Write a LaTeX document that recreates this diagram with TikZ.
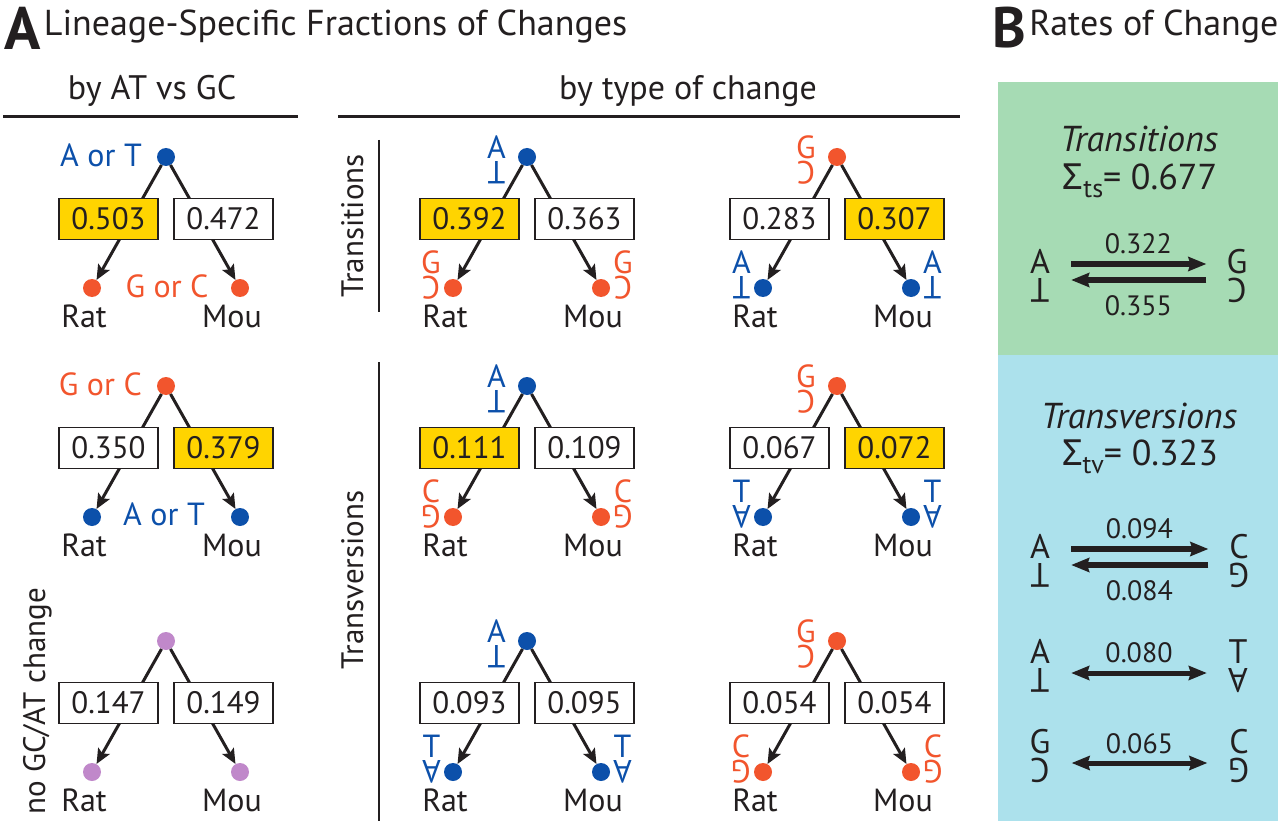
\documentclass[tikz,border=0pt]{standalone}
\usepackage{fontspec}
\setmainfont{PT Sans}
\newfontfamily\greekfont{Noto Sans}
\usepackage{graphicx}
\usetikzlibrary{arrows.meta, positioning}
\definecolor{atblue}{RGB}{12,80,170}
\definecolor{gcred}{RGB}{242,85,45}
\definecolor{nochange}{RGB}{192,136,202}
\definecolor{hiyellow}{RGB}{255,212,0}
\definecolor{tsgreen}{RGB}{166,219,180}
\definecolor{tvblue}{RGB}{172,225,236}
\definecolor{ink}{RGB}{35,31,32}
\newcommand{\bp}[2]{#1\\\rotatebox[origin=c]{180}{#2}}
\newcommand{\fs}[1]{\fontsize{#1}{#1}\selectfont}

\begin{document}
\begin{tikzpicture}[
  x=1pt, y=-1pt,
  every node/.style={text=ink},
  dot/.style={circle, inner sep=0pt, minimum size=18pt},
  rate/.style={rectangle, draw=ink, line width=1.5pt, minimum width=99pt, minimum height=41pt, inner sep=0pt, font=\fs{31}},
  branch/.style={draw=ink, line width=3pt, -{Stealth[length=15pt, width=13pt, inset=3pt]}},
  species/.style={anchor=base, inner sep=0pt, font=\fs{32}},
  basestate/.style={inner sep=0pt, font=\fs{32}},
  pair/.style={inner sep=0pt, align=center, font=\fontsize{32}{26}\selectfont},
  bigpair/.style={inner sep=0pt, align=center, font=\fontsize{34}{29}\selectfont},
  heading/.style={inner sep=0pt, font=\fs{36}},
  subheading/.style={anchor=base, inner sep=0pt, font=\fs{34}},
  sidelabel/.style={rotate=90, anchor=base, inner sep=0pt, font=\fs{31}},
  rule/.style={draw=ink, line width=3pt},
  oneway/.style={draw=ink, line width=5.5pt, -{Stealth[length=18pt, width=14pt, inset=2pt]}},
  twoway/.style={draw=ink, line width=5pt, {Stealth[length=18pt, width=14pt, inset=2pt]}-{Stealth[length=18pt, width=14pt, inset=2pt]}},
  ratelabel/.style={inner sep=0pt, font=\fs{28}}
]
  \fill[white] (0,0) rectangle (1280,821);
  \useasboundingbox (0,0) rectangle (1280,821);

  % panel headings
  \node[inner sep=0pt, anchor=base west, font=\fs{60}\bfseries] (panA) at (4,50) {A};
  \node[heading, anchor=north west] (titleA) at ([xshift=3pt, yshift=-2pt]panA.north east) {Lineage-Specific Fractions of Changes};
  \node[inner sep=0pt, anchor=base west, font=\fs{57}\bfseries] (panB) at (992,48) {B};
  \node[heading, anchor=north west] (titleB) at ([xshift=3pt, yshift=-2pt]panB.north east) {Rates of Change};

  % column headings
  \node[subheading] (byat) at (152,100) {by AT vs GC};
  \node[subheading] (bytype) at (688,100) {by type of change};
  \draw[rule] (3,117) -- (298,117);
  \draw[rule] (338,117) -- (960,117);

  % side labels
  \node[sidelabel] (tslab) at (363,226) {Transitions};
  \node[sidelabel] (tvlab) at (363,580) {Transversions};
  \node[sidelabel, anchor=base west] (nclab) at (45,815) {no GC/AT change};
  \draw[draw=ink, line width=1.6pt] (379,140) -- (379,312);
  \draw[draw=ink, line width=1.6pt] (379,362) -- (379,822);

  % trees: name/root x/root y/root colour/leaf colour/left value/left fill/right value/right fill
  \foreach \t/\x/\y/\cr/\cl/\lv/\lf/\rv/\rf in {
    ag/166/157/atblue/gcred/0.503/hiyellow/0.472/white,
    ga/166/386/gcred/atblue/0.350/white/0.379/hiyellow,
    nc/166/641/nochange/nochange/0.147/white/0.149/white,
    tsa/527/157/atblue/gcred/0.392/hiyellow/0.363/white,
    tsg/837/157/gcred/atblue/0.283/white/0.307/hiyellow,
    tvac/527/386/atblue/gcred/0.111/hiyellow/0.109/white,
    tvgt/837/386/gcred/atblue/0.067/white/0.072/hiyellow,
    tvat/527/641/atblue/atblue/0.093/white/0.095/white,
    tvgc/837/641/gcred/gcred/0.054/white/0.054/white}{
    \node[dot, fill=\cr] (\t-r) at (\x,\y) {};
    \node[dot, fill=\cl] (\t-a) at (\x-74,\y+131) {};
    \node[dot, fill=\cl] (\t-b) at (\x+74,\y+131) {};
    \draw[branch] (\t-r) -- (\t-a);
    \draw[branch] (\t-r) -- (\t-b);
    \node[rate, fill=\lf] (\t-la) at (\x-57.5,\y+62) {\lv};
    \node[rate, fill=\rf] (\t-lb) at (\x+57.5,\y+62) {\rv};
    \node[species] (\t-rat) at (\x-82,\y+170) {Rat};
    \node[species] (\t-mou) at (\x+66,\y+170) {Mou};
  }

  % AT vs GC states
  \node[basestate, text=atblue, anchor=east] (ag-rs) at ([xshift=-24pt, yshift=2pt]ag-r.center) {A or T};
  \node[basestate, text=gcred, anchor=base] (ag-ls) at (167,297) {G or C};
  \node[basestate, text=gcred, anchor=east] (ga-rs) at ([xshift=-24pt, yshift=2pt]ga-r.center) {G or C};
  \node[basestate, text=atblue, anchor=base] (ga-ls) at (164,525) {A or T};

  % base pairs on the type-of-change trees
  \foreach \t/\rt/\rb/\rc/\lt/\lb/\lc in {tsa/A/T/atblue/G/C/gcred, tsg/G/C/gcred/A/T/atblue,
    tvac/A/T/atblue/C/G/gcred, tvgt/G/C/gcred/T/A/atblue,
    tvat/A/T/atblue/T/A/atblue, tvgc/G/C/gcred/C/G/gcred}{
    \node[pair, text=\rc, anchor=east] (\t-rl) at ([xshift=-21pt, yshift=-3pt]\t-r.center) {\bp{\rt}{\rb}};
    \node[pair, text=\lc, anchor=east] (\t-al) at ([xshift=-12pt, yshift=13pt]\t-a.center) {\bp{\lt}{\lb}};
    \node[pair, text=\lc, anchor=west] (\t-bl) at ([xshift=12pt, yshift=13pt]\t-b.center) {\bp{\lt}{\lb}};
  }

  % rates of change
  \fill[tsgreen] (998,82) rectangle (1278,355);
  \fill[tvblue] (998,355) rectangle (1278,822);
  \node[anchor=base, inner sep=0pt, font=\fs{36}\itshape] (tshead) at (1139,152) {Transitions};
  \node[anchor=base, inner sep=0pt, font=\fs{36}] (tssum) at (1140,190) {{\greekfont Σ}\raisebox{-8pt}{\fs{26}ts}= 0.677};
  \node[bigpair] (ts-a) at (1040,276) {\bp{A}{T}};
  \node[bigpair] (ts-g) at (1237,276) {\bp{G}{C}};
  \draw[oneway, shorten <=21pt, shorten >=20pt] ([yshift=12pt]ts-a.east) -- node[ratelabel, above=7pt] {0.322} ([yshift=12pt]ts-g.west);
  \draw[oneway, shorten <=20pt, shorten >=21pt] ([yshift=-4pt]ts-g.west) -- node[ratelabel, below=13pt] {0.355} ([yshift=-4pt]ts-a.east);

  \node[anchor=base, inner sep=0pt, font=\fs{36}\itshape] (tvhead) at (1139,428) {Transversions};
  \node[anchor=base, inner sep=0pt, font=\fs{36}] (tvsum) at (1140,465) {{\greekfont Σ}\raisebox{-8pt}{\fs{26}tv}= 0.323};
  \node[bigpair] (tv-a1) at (1040,561) {\bp{A}{T}};
  \node[bigpair] (tv-c1) at (1239,561) {\bp{C}{G}};
  \draw[oneway, shorten <=21pt, shorten >=20pt] ([yshift=12pt]tv-a1.east) -- node[ratelabel, above=7pt] {0.094} ([yshift=12pt]tv-c1.west);
  \draw[oneway, shorten <=20pt, shorten >=21pt] ([yshift=-4pt]tv-c1.west) -- node[ratelabel, below=13pt] {0.084} ([yshift=-4pt]tv-a1.east);
  \node[bigpair] (tv-a2) at (1040,666) {\bp{A}{T}};
  \node[bigpair] (tv-t2) at (1238,666) {\bp{T}{A}};
  \draw[twoway, shorten <=21pt, shorten >=21pt] ([yshift=-7pt]tv-a2.east) -- node[ratelabel, above=8pt] {0.080} ([yshift=-7pt]tv-t2.west);
  \node[bigpair] (tv-g3) at (1040,756) {\bp{G}{C}};
  \node[bigpair] (tv-c3) at (1239,756) {\bp{C}{G}};
  \draw[twoway, shorten <=21pt, shorten >=21pt] ([yshift=-7pt]tv-g3.east) -- node[ratelabel, above=7pt] {0.065} ([yshift=-7pt]tv-c3.west);
\end{tikzpicture}
\end{document}
